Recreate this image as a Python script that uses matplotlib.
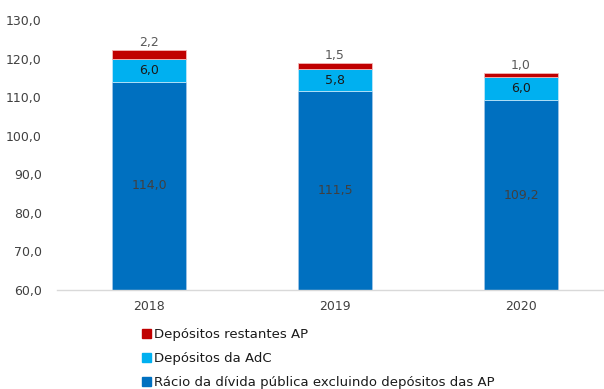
import matplotlib.pyplot as plt
from matplotlib.patches import Patch

# Dados
anos = ["2018", "2019", "2020"]
racio_excl = [114.0, 111.5, 109.2]
depositos_adc = [6.0, 5.8, 6.0]
depositos_rest = [2.2, 1.5, 1.0]

nome_racio = "Rácio da dívida pública excluindo depósitos das AP"
nome_adc = "Depósitos da AdC"
nome_rest = "Depósitos restantes AP"

cor_racio = "#0070C0"
cor_adc = "#00B0F0"
cor_rest = "#C00000"


def fmt(v):
    return f"{v:.1f}".replace(".", ",")


def main():
    plt.rcParams["font.family"] = ["DejaVu Sans"]
    fig = plt.figure(figsize=(6.04, 3.89), dpi=100)
    ax = fig.add_axes([57 / 604, 99 / 389, 547 / 604, 270 / 389])

    x = list(range(len(anos)))
    w = 0.4
    base = [60.0] * len(anos)
    ax.bar(x, [r - 60 for r in racio_excl], w, bottom=base, color=cor_racio,
           edgecolor="#9DC3E6", linewidth=0.6)
    topo1 = racio_excl
    ax.bar(x, depositos_adc, w, bottom=topo1, color=cor_adc,
           edgecolor="#BDE5F8", linewidth=0.6)
    topo2 = [a + b for a, b in zip(topo1, depositos_adc)]
    ax.bar(x, depositos_rest, w, bottom=topo2, color=cor_rest,
           edgecolor="#F4B6B6", linewidth=0.6)
    topo3 = [a + b for a, b in zip(topo2, depositos_rest)]

    # Rótulos de valores
    for i in x:
        ax.text(i, (60 + racio_excl[i]) / 2, fmt(racio_excl[i]), ha="center",
                va="center", fontsize=9, color="#404040")
        ax.text(i, topo1[i] + depositos_adc[i] / 2, fmt(depositos_adc[i]),
                ha="center", va="center", fontsize=9, color="#1a1a1a")
        ax.text(i, topo3[i] + 0.3, fmt(depositos_rest[i]), ha="center",
                va="bottom", fontsize=9, color="#595959")

    ax.set_xlim(-0.495, 2.446)
    ax.set_ylim(60, 130)
    ax.set_yticks(range(60, 131, 10))
    ax.set_yticklabels([fmt(v) for v in range(60, 131, 10)])
    ax.set_xticks(x)
    ax.set_xticklabels(anos)
    ax.tick_params(axis="y", length=0, pad=11, labelsize=9, labelcolor="#404040")
    ax.tick_params(axis="x", length=0, pad=7, labelsize=9, labelcolor="#404040")
    for s in ["top", "right", "left"]:
        ax.spines[s].set_visible(False)
    ax.spines["bottom"].set_color("#D9D9D9")
    ax.spines["bottom"].set_linewidth(1.0)

    handles = [Patch(color=cor_rest), Patch(color=cor_adc), Patch(color=cor_racio)]
    labels = [nome_rest, nome_adc, nome_racio]
    fig.legend(handles, labels, loc="upper left", bbox_to_anchor=(142 / 604, 1 - 328 / 389),
               frameon=False, fontsize=9.5, handlelength=0.65, handleheight=0.65,
               handletextpad=0.25, labelspacing=0.85, labelcolor="#1a1a1a",
               borderaxespad=0, borderpad=0)

    fig.savefig("out.png", dpi=100)


if __name__ == "__main__":
    main()
